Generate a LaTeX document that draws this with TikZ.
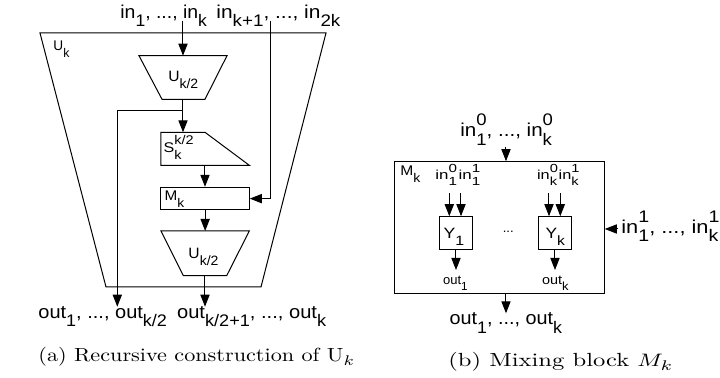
\documentclass[tikz,border=0pt]{standalone}
\usepackage{fontspec}
\setsansfont{Liberation Sans}
\usepackage{graphicx}
\usetikzlibrary{arrows.meta}
\newcommand\dn[1]{\raisebox{-0.45em}{\scalebox{0.9}{#1}}}
\newcommand\up[1]{\raisebox{0.58em}{\scalebox{0.9}{#1}}}
\newcommand\ud[2]{\rlap{\up{#1}}\dn{#2}}
\newcommand\fw[2]{\resizebox{#1}{\height}{#2}}
\tikzset{
  ln/.style={line width=0.5pt},
  arr/.style={ln, -{Triangle[length=6pt,width=4.6pt]}},
  lab/.style={inner sep=0pt, font=\fontsize{9.3}{10}\sffamily},
  blab/.style={inner sep=0pt, font=\fontsize{7.5}{8}\sffamily},
  slab/.style={inner sep=0pt, font=\fontsize{6.5}{7}\sffamily},
  capt/.style={inner sep=0pt, font=\fontsize{9.5}{11}\selectfont},
  box/.style={draw, ln, rectangle, inner sep=0pt},
}
\begin{document}
\begin{tikzpicture}[x=0.5pt, y=-0.5pt]
\useasboundingbox (0,0) rectangle (720,378);
% ---------- (a) ----------
\draw[ln] (40,33) -- (326,33) -- (261,287) -- (106,287) -- cycle;
\node[slab, font=\fontsize{7}{7}\sffamily, anchor=base west] (uk) at (53,51) {\fw{8pt}{U\dn{k}}};
% top U_{k/2}
\draw[ln] (139,55.7) -- (227,55.7) -- (205,99.3) -- (162,99.3) -- cycle;
\coordinate (ut) at (183,55.7);
\coordinate (ub) at (183,99.3);
\node[blab, anchor=base] (u1) at (183.3,81.7) {\fw{15pt}{U\dn{k/2}}};
% S box
\draw[ln] (161,132.3) -- (205,132.3) -- (249.3,165.3) -- (161,165.3) -- cycle;
\coordinate (st) at (183,132.3);
\coordinate (sb) at (205,165.3);
\node[blab, font=\fontsize{7}{8}\sffamily, anchor=base west] (sl) at (163.3,153) {\fw{15pt}{S\rlap{\dn{k}}\up{k/2}}};
% M box
\node[box, minimum width=44.15pt, minimum height=11.35pt] (M) at (205.15,198.65) {};
\node[blab, font=\fontsize{7}{7}\sffamily, anchor=base west] (ml) at (164.3,201) {\fw{9.8pt}{M\dn{k}}};
% lower U_{k/2}
\draw[ln] (161,231) -- (249.3,231) -- (226.7,275.7) -- (183.3,275.7) -- cycle;
\coordinate (lt) at (205.15,231);
\coordinate (lb) at (205,275.7);
\node[blab, anchor=base] (u2) at (203.5,258.3) {\fw{15pt}{U\dn{k/2}}};
% labels
\node[lab, anchor=base west] (inA) at (120,18.3) {\fw{43.3pt}{in\dn{1}, ..., in\dn{k}}};
\node[lab, anchor=base west] (inB) at (216,18.3) {\fw{62pt}{in\dn{k+1}, ..., in\dn{2k}}};
\node[lab, anchor=base west] (outA) at (38,318.3) {\fw{64.3pt}{out\dn{1}, ..., out\dn{k/2}}};
\node[lab, anchor=base west] (outB) at (176.7,318.3) {\fw{74.5pt}{out\dn{k/2+1}, ..., out\dn{k}}};
\coordinate (a0) at (183,21);
\coordinate (b0) at (270.7,21);
\coordinate (br) at (183,110.3);
\coordinate (fb) at (117.3,110.3);
\coordinate (o1) at (117.3,306.7);
\coordinate (o2) at (205,306.7);
% connectors
\draw[arr] (a0) -- (ut);
\draw[arr] (ub) -- (st);
\draw[arr] (br) -- (fb) -- (o1);
\draw[arr] (sb) -- (sb |- M.north);
\draw[arr] (M.south) -- (lt);
\draw[arr] (lb) -- (o2);
\draw[arr] (b0) |- (M.east);
\node[capt, anchor=base] (capA) at (196.7,361.5) {\fw{158.3pt}{(a) Recursive construction of U$_k$}};
% ---------- (b) ----------
\node[box, minimum width=104.65pt, minimum height=65.8pt] (Mk) at (499.65,227.5) {};
\node[lab, anchor=base west] (in0) at (460,136.7) {\fw{45.8pt}{in\ud{0}{1}, ..., in\ud{0}{k}}};
\coordinate (c0) at (506,146.7);
\draw[arr] (c0) -- (c0 |- Mk.north);
\node[blab, font=\fontsize{7}{7}\sffamily, anchor=base west] (mkl) at (400,176) {\fw{10pt}{M\dn{k}}};
\node[box, minimum width=16.7pt, minimum height=16.65pt] (Y1) at (456,233.35) {};
\node[box, minimum width=16.7pt, minimum height=16.65pt] (Yk) at (555,233.35) {};
\node[blab, anchor=base] (y1l) at (454,238.3) {\fw{10.3pt}{Y\dn{1}}};
\node[blab, anchor=base] (ykl) at (555.3,238.3) {\fw{9.7pt}{Y\dn{k}}};
\node[slab, anchor=base] (dots) at (508.3,233) {...};
\node[slab, anchor=base west] (i01) at (435,180) {\fw{10.8pt}{in\ud{0}{1}}};
\node[slab, anchor=base west] (i11) at (458.3,180) {\fw{10.8pt}{in\ud{1}{1}}};
\node[slab, anchor=base west] (i0k) at (536.7,180) {\fw{10pt}{in\ud{0}{k}}};
\node[slab, anchor=base west] (i1k) at (558.3,180) {\fw{10pt}{in\ud{1}{k}}};
\coordinate (p1) at (449.3,193.3);
\coordinate (p2) at (461,193.3);
\coordinate (p3) at (549,193.3);
\coordinate (p4) at (560.3,193.3);
\draw[arr] (p1) -- (p1 |- Y1.north);
\draw[arr] (p2) -- (p2 |- Y1.north);
\draw[arr] (p3) -- (p3 |- Yk.north);
\draw[arr] (p4) -- (p4 |- Yk.north);
\coordinate (q1) at (456,270);
\coordinate (qk) at (555,270);
\draw[arr] (Y1.south) -- (q1);
\draw[arr] (Yk.south) -- (qk);
\node[slab, anchor=base west] (o1l) at (442.7,285) {\fw{12.3pt}{out\dn{1}}};
\node[slab, anchor=base west] (okl) at (541.7,285) {\fw{13.3pt}{out\dn{k}}};
\node[lab, anchor=base west] (in1) at (621,233.3) {\fw{48.5pt}{in\ud{1}{1}, ..., in\ud{1}{k}}};
\coordinate (r0) at (618.3,229);
\draw[arr] (r0) -- (Mk.east |- r0);
\coordinate (d0) at (506,313.3);
\draw[arr] (Mk.south -| d0) -- (d0);
\node[lab, anchor=base west] (outC) at (449.3,325) {\fw{56.2pt}{out\dn{1}, ..., out\dn{k}}};
\node[capt, anchor=base] (capB) at (560.8,366.5) {\fw{112.5pt}{(b) Mixing block $M_k$}};
\end{tikzpicture}
\end{document}
